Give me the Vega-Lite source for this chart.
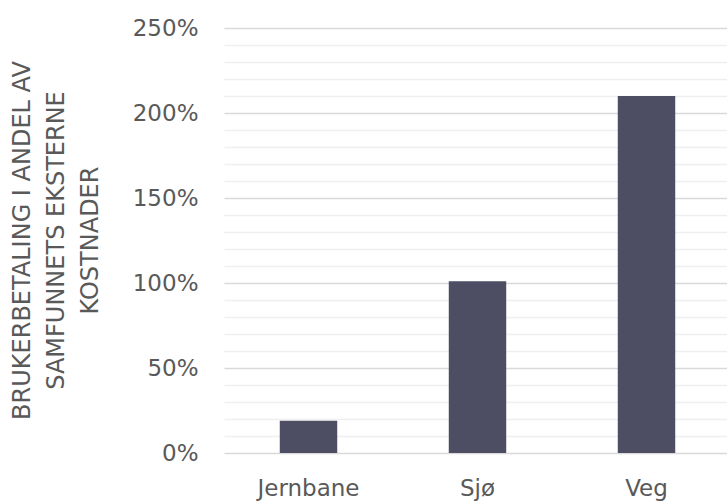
{
  "$schema": "https://vega.github.io/schema/vega-lite/v6.json",
  "autosize": "none",
  "width": 507,
  "height": 425,
  "padding": {"left": 224, "top": 28, "right": 0, "bottom": 51},
  "background": "white",
  "config": {
    "view": {"stroke": null},
    "font": "DejaVu Sans"
  },
  "data": {
    "values": [
      {"kategori": "Jernbane", "andel": 0.19},
      {"kategori": "Sjø", "andel": 1.01},
      {"kategori": "Veg", "andel": 2.10}
    ]
  },
  "mark": {"type": "bar", "color": "#4d4e63"},
  "encoding": {
    "x": {
      "field": "kategori",
      "type": "nominal",
      "sort": null,
      "scale": {"paddingInner": 0.66, "paddingOuter": 0.33},
      "axis": {
        "title": null,
        "labelAngle": 0,
        "labelFontSize": 23,
        "labelColor": "#595959",
        "labelPadding": 24,
        "ticks": false,
        "domain": false
      }
    },
    "y": {
      "field": "andel",
      "type": "quantitative",
      "scale": {"domain": [0, 2.5], "nice": false},
      "axis": {
        "values": [0, 0.1, 0.2, 0.3, 0.4, 0.5, 0.6, 0.7, 0.8, 0.9, 1.0, 1.1, 1.2, 1.3, 1.4, 1.5, 1.6, 1.7, 1.8, 1.9, 2.0, 2.1, 2.2, 2.3, 2.4, 2.5],
        "labelExpr": "round(datum.value*100) % 50 == 0 ? format(datum.value, '.0%') : ''",
        "gridColor": {"condition": {"test": "round(datum.value*100) % 50 == 0", "value": "#d9d9d9"}, "value": "#efefef"},
        "gridWidth": 1.3,
        "ticks": false,
        "domain": false,
        "labelFontSize": 23,
        "labelColor": "#595959",
        "labelPadding": 26,
        "title": ["BRUKERBETALING I ANDEL AV", "SAMFUNNETS EKSTERNE", "KOSTNADER"],
        "titleFontSize": 24,
        "titleFontWeight": "normal",
        "titleColor": "#595959",
        "titleLineHeight": 34,
        "titleAngle": -90,
        "titleAlign": "center",
        "titleBaseline": "top",
        "titleX": -214,
        "titleY": 212
      }
    }
  }
}
